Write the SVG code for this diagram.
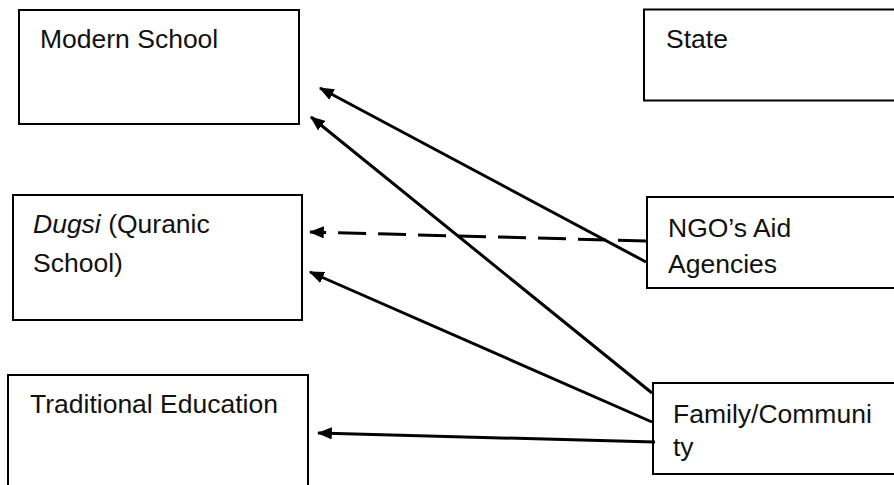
<svg xmlns="http://www.w3.org/2000/svg" width="894" height="485" viewBox="0 0 894 485">
<style>
.box{fill:#fff;stroke:#000;stroke-width:2}
.lbl{font-family:"Liberation Sans",Arial,sans-serif;font-size:26.5px;fill:#111}
.conn{stroke:#000;stroke-width:3;fill:none;marker-end:url(#ah)}
.dash{stroke-dasharray:28 12}
</style>
<defs>
<marker id="ah" markerWidth="5" markerHeight="4" refX="4.6" refY="2" orient="auto" markerUnits="strokeWidth">
<path d="M0,0 L5,2 L0,4 Z" fill="#000"/>
</marker>
</defs>
<rect width="894" height="485" fill="#fff"/>
<g id="modern-school"><rect class="box" x="19" y="10" width="280" height="114"/><text class="lbl" x="40" y="48">Modern School</text></g>
<g id="state"><rect class="box" x="644" y="9.5" width="260" height="91"/><text class="lbl" x="666" y="48">State</text></g>
<g id="dugsi"><rect class="box" x="13" y="195" width="289" height="125"/><text class="lbl" x="33" y="233"><tspan font-style="italic">Dugsi</tspan> (Quranic</text><text class="lbl" x="33" y="272">School)</text></g>
<g id="ngo"><rect class="box" x="647" y="197" width="257" height="91"/><text class="lbl" x="668" y="237">NGO’s Aid</text><text class="lbl" x="668" y="273">Agencies</text></g>
<g id="traditional"><rect class="box" x="8" y="375" width="300" height="120"/><text class="lbl" x="30" y="413">Traditional Education</text></g>
<g id="family"><rect class="box" x="653" y="383" width="251" height="91"/><text class="lbl" x="673" y="423">Family/Communi</text><text class="lbl" x="673" y="456">ty</text></g>
<g id="connectors">
<line class="conn" x1="646" y1="262" x2="320" y2="88"/>
<line class="conn" x1="652" y1="393" x2="311" y2="117"/>
<line class="conn dash" x1="646" y1="241" x2="310" y2="232"/>
<line class="conn" x1="652" y1="422" x2="310" y2="272"/>
<line class="conn" x1="655" y1="442" x2="318" y2="433"/>
</g>
</svg>
